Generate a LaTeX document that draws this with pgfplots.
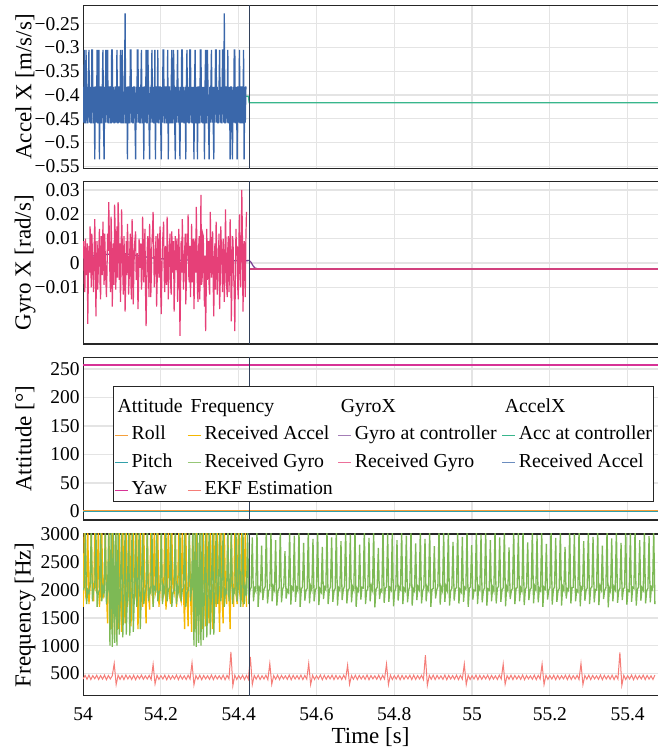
\documentclass[border=0pt]{standalone}
\usepackage{fontspec}
\setmainfont{Liberation Serif}
\usepackage{pgfplots}
\pgfplotsset{compat=1.18}
\usepackage{pgfplotstable}

\definecolor{cAccCtrl}{RGB}{56,182,140}
\definecolor{cAccRecv}{RGB}{58,103,170}
\definecolor{cGyroCtrl}{RGB}{125,70,150}
\definecolor{cGyroRecv}{RGB}{230,64,120}
\definecolor{cRoll}{RGB}{245,160,60}
\definecolor{cPitch}{RGB}{50,160,170}
\definecolor{cYaw}{RGB}{215,50,150}
\definecolor{cFAcc}{RGB}{245,183,0}
\definecolor{cFGyro}{RGB}{125,185,85}
\definecolor{cEKF}{RGB}{245,125,120}
\definecolor{cVline}{RGB}{50,65,90}
\definecolor{cGrid}{RGB}{228,228,228}

% Received Accel (panel 1), samples every 0.0015 s from 54.000
\pgfplotstableread[row sep=\\]{y\\
-0.383\\-0.458\\-0.305\\-0.458\\-0.458\\-0.305\\-0.383\\-0.458\\-0.458\\-0.383\\-0.305\\-0.458\\-0.383\\-0.458\\-0.458\\-0.305\\-0.305\\-0.458\\-0.458\\-0.383\\
-0.535\\-0.383\\-0.383\\-0.458\\-0.305\\-0.458\\-0.458\\-0.305\\-0.535\\-0.383\\-0.383\\-0.458\\-0.458\\-0.383\\-0.305\\-0.458\\-0.535\\-0.383\\-0.458\\-0.305\\
-0.383\\-0.458\\-0.305\\-0.458\\-0.458\\-0.383\\-0.383\\-0.458\\-0.458\\-0.305\\-0.305\\-0.458\\-0.383\\-0.458\\-0.458\\-0.383\\-0.383\\-0.458\\-0.305\\-0.458\\
-0.458\\-0.383\\-0.383\\-0.458\\-0.305\\-0.458\\-0.458\\-0.305\\-0.383\\-0.458\\-0.458\\-0.383\\-0.228\\-0.458\\-0.458\\-0.383\\-0.535\\-0.383\\-0.383\\-0.458\\
-0.458\\-0.305\\-0.305\\-0.458\\-0.383\\-0.458\\-0.458\\-0.383\\-0.383\\-0.458\\-0.535\\-0.383\\-0.458\\-0.305\\-0.305\\-0.458\\-0.383\\-0.458\\-0.458\\-0.383\\
-0.305\\-0.458\\-0.458\\-0.383\\-0.535\\-0.383\\-0.383\\-0.458\\-0.305\\-0.458\\-0.458\\-0.305\\-0.383\\-0.458\\-0.535\\-0.383\\-0.458\\-0.383\\-0.305\\-0.458\\
-0.383\\-0.458\\-0.458\\-0.305\\-0.535\\-0.383\\-0.383\\-0.458\\-0.305\\-0.458\\-0.458\\-0.383\\-0.383\\-0.458\\-0.535\\-0.383\\-0.458\\-0.305\\-0.305\\-0.458\\
-0.458\\-0.383\\-0.383\\-0.458\\-0.458\\-0.305\\-0.535\\-0.383\\-0.383\\-0.458\\-0.458\\-0.383\\-0.305\\-0.458\\-0.458\\-0.305\\-0.383\\-0.458\\-0.535\\-0.383\\
-0.458\\-0.383\\-0.305\\-0.458\\-0.383\\-0.458\\-0.535\\-0.383\\-0.458\\-0.305\\-0.305\\-0.458\\-0.383\\-0.458\\-0.458\\-0.383\\-0.535\\-0.383\\-0.305\\-0.458\\
-0.383\\-0.458\\-0.458\\-0.305\\-0.305\\-0.458\\-0.383\\-0.458\\-0.458\\-0.383\\-0.535\\-0.383\\-0.305\\-0.458\\-0.458\\-0.383\\-0.535\\-0.383\\-0.383\\-0.458\\
-0.458\\-0.305\\-0.305\\-0.458\\-0.383\\-0.458\\-0.458\\-0.383\\-0.535\\-0.383\\-0.305\\-0.458\\-0.458\\-0.305\\-0.383\\-0.458\\-0.535\\-0.383\\-0.458\\-0.383\\
-0.305\\-0.458\\-0.383\\-0.458\\-0.535\\-0.383\\-0.458\\-0.305\\-0.305\\-0.458\\-0.383\\-0.458\\-0.458\\-0.383\\-0.305\\-0.458\\-0.383\\-0.458\\-0.458\\-0.305\\
-0.305\\-0.458\\-0.228\\-0.458\\-0.458\\-0.383\\-0.383\\-0.458\\-0.305\\-0.458\\-0.458\\-0.383\\-0.535\\-0.383\\-0.383\\-0.458\\-0.535\\-0.383\\-0.458\\-0.305\\
-0.305\\-0.458\\-0.458\\-0.383\\-0.535\\-0.383\\-0.383\\-0.458\\-0.305\\-0.458\\-0.458\\-0.383\\-0.383\\-0.458\\-0.458\\-0.305\\-0.535\\-0.383\\-0.458\\-0.383\\
-0.383\\
}\accdata

% Received Gyro (panel 2), samples every 0.0015 s from 54.000
\pgfplotstableread[row sep=\\]{y\\
0.002\\0.009\\-0.008\\-0.012\\0.010\\0.000\\-0.005\\0.008\\-0.025\\-0.006\\0.007\\-0.004\\0.015\\0.003\\-0.010\\0.012\\0.004\\-0.006\\-0.012\\0.005\\
0.018\\0.004\\-0.022\\-0.002\\0.009\\-0.011\\-0.003\\0.006\\0.014\\-0.008\\-0.015\\0.011\\0.006\\-0.005\\0.017\\0.004\\-0.009\\0.012\\0.003\\-0.007\\
-0.014\\-0.003\\0.012\\0.005\\0.025\\0.010\\-0.006\\-0.012\\0.019\\0.007\\-0.018\\-0.004\\0.008\\-0.009\\0.024\\0.013\\-0.011\\0.003\\0.015\\-0.006\\
0.025\\0.016\\-0.007\\0.008\\-0.016\\-0.003\\0.022\\0.009\\-0.004\\-0.013\\0.011\\0.002\\-0.020\\-0.008\\0.009\\-0.005\\0.016\\0.007\\-0.013\\-0.006\\
0.005\\0.012\\-0.009\\-0.015\\0.018\\0.005\\-0.017\\-0.004\\0.007\\0.010\\0.013\\-0.007\\-0.005\\0.004\\-0.019\\-0.010\\0.010\\-0.002\\0.003\\0.008\\
-0.011\\-0.006\\0.019\\0.009\\-0.008\\0.003\\0.014\\-0.012\\-0.026\\-0.009\\0.006\\0.011\\-0.003\\-0.014\\0.016\\0.005\\-0.014\\-0.005\\0.009\\0.013\\
0.021\\0.006\\-0.010\\-0.003\\0.004\\0.011\\-0.018\\-0.007\\0.012\\0.003\\-0.006\\0.009\\0.015\\-0.012\\-0.021\\-0.004\\0.008\\0.012\\0.017\\-0.006\\
-0.012\\0.007\\0.002\\-0.009\\0.019\\0.008\\-0.015\\-0.002\\0.006\\0.012\\-0.009\\-0.013\\0.013\\0.002\\-0.004\\0.009\\-0.020\\-0.007\\0.011\\-0.003\\
0.007\\0.010\\-0.016\\-0.006\\0.014\\0.002\\-0.030\\-0.011\\0.009\\-0.004\\0.018\\0.006\\-0.011\\-0.002\\0.004\\0.012\\-0.017\\-0.008\\0.012\\0.003\\
0.020\\-0.005\\-0.008\\0.007\\-0.014\\-0.003\\0.016\\-0.008\\0.003\\0.010\\-0.019\\-0.006\\0.010\\-0.004\\0.023\\0.008\\-0.012\\-0.016\\0.006\\0.011\\
-0.015\\0.004\\0.028\\-0.009\\-0.007\\0.012\\0.011\\-0.005\\-0.018\\0.003\\-0.028\\-0.012\\0.014\\-0.007\\0.005\\0.009\\-0.010\\-0.013\\0.021\\0.004\\
-0.006\\0.008\\0.013\\-0.009\\-0.022\\0.003\\0.008\\-0.011\\0.017\\0.005\\-0.013\\-0.004\\0.004\\0.012\\-0.019\\-0.008\\0.015\\0.006\\-0.002\\-0.012\\
0.010\\0.005\\-0.016\\-0.005\\0.022\\0.007\\-0.009\\-0.014\\0.006\\0.011\\-0.012\\-0.003\\0.018\\0.004\\-0.024\\-0.010\\0.011\\0.009\\-0.005\\-0.011\\
-0.028\\-0.006\\0.014\\0.003\\0.007\\-0.010\\-0.015\\0.008\\0.020\\-0.004\\-0.010\\0.006\\0.030\\0.012\\-0.020\\-0.007\\0.009\\0.005\\-0.014\\0.010\\
0.021\\
}\gyrodata

% Frequency: Received Accel, samples every 0.003 s from 54.000
\pgfplotstableread[row sep=\\]{y\\
1700\\3100\\1900\\2000\\3100\\1750\\2050\\3100\\1950\\1800\\
3100\\2000\\1950\\3100\\1700\\2000\\3100\\1850\\2000\\3100\\
1950\\1400\\3100\\2000\\1300\\3100\\1950\\1200\\3100\\2050\\
1300\\3100\\1950\\1250\\3100\\2000\\1400\\3100\\1700\\2000\\
3100\\1350\\2000\\3100\\1800\\1950\\3100\\1300\\2050\\3100\\
1900\\1700\\3100\\2000\\1400\\3100\\1950\\1650\\3100\\2000\\
1750\\3100\\1950\\2050\\3100\\1700\\2000\\3100\\1800\\1950\\
3100\\1650\\2000\\3100\\1900\\1750\\3100\\2050\\1950\\3100\\
1700\\2000\\3100\\1900\\1800\\3100\\2000\\1300\\3100\\1950\\
1350\\3100\\2000\\1250\\3100\\1950\\1300\\3100\\2000\\1200\\
3100\\1950\\1300\\3100\\2050\\1350\\3100\\1900\\1400\\3100\\
2000\\1300\\3100\\1950\\1700\\3100\\2050\\1250\\3100\\1950\\
1400\\3100\\2000\\1750\\3100\\1950\\1300\\3100\\2000\\1700\\
3100\\1950\\1750\\3100\\2000\\1800\\3100\\1700\\2050\\3100\\1700\\
}\faccdata

% Frequency: Received Gyro, samples every 0.003 s from 54.000
\pgfplotstableread[row sep=\\]{y\\
2000\\2050\\3100\\1750\\2000\\1950\\2100\\3100\\1800\\2000\\
2050\\3100\\1700\\1950\\2000\\3100\\1800\\2050\\1950\\3100\\
1750\\2000\\3100\\1000\\3100\\980\\3100\\1050\\3100\\1000\\
3100\\1200\\2050\\3100\\1150\\1950\\3100\\1200\\2000\\3100\\
1180\\2000\\3100\\1250\\1950\\3100\\1700\\2050\\3100\\1300\\
2000\\3100\\1750\\1950\\2050\\3100\\1800\\2000\\1950\\3100\\
1700\\2050\\2000\\3100\\1800\\1950\\2000\\3100\\1750\\2050\\
1950\\3100\\1800\\2000\\2050\\3100\\1700\\1950\\2000\\3100\\
1750\\2050\\1950\\3100\\1800\\2000\\2050\\3100\\1700\\1950\\
2000\\3100\\1800\\2050\\3100\\1000\\3100\\980\\3100\\1050\\
3100\\1000\\3100\\1100\\2000\\3100\\1150\\1950\\3100\\1200\\
2050\\3100\\1200\\2000\\3100\\1750\\1950\\3100\\1800\\2050\\
3100\\1700\\2000\\1950\\3100\\1800\\2050\\3100\\1750\\2000\\
1950\\3100\\1800\\2050\\3100\\1700\\2000\\3100\\1750\\2050\\1900\\
3100\\1750\\2000\\2050\\2950\\1800\\2030\\1980\\3100\\1700\\
2040\\1990\\2800\\1820\\2010\\2060\\3100\\1760\\1990\\2030\\
3050\\1800\\2060\\2000\\2900\\1720\\1980\\2040\\3100\\1780\\
2020\\2070\\2700\\1850\\2000\\1960\\3100\\1740\\2050\\2010\\
2980\\1790\\2040\\1990\\3100\\1700\\2010\\2060\\2850\\1810\\
1990\\2030\\3100\\1760\\2070\\2000\\2920\\1800\\2000\\2040\\
3100\\1730\\2020\\1970\\2780\\1840\\2050\\2010\\3100\\1750\\
2000\\2060\\2950\\1790\\1980\\2030\\3100\\1720\\2040\\2000\\
2880\\1820\\2010\\2070\\3100\\1760\\1990\\2030\\3000\\1780\\
2060\\2000\\3100\\1700\\2020\\1980\\2820\\1830\\2050\\2040\\
3100\\1750\\1990\\2020\\2940\\1800\\2070\\2000\\3100\\1690\\
2010\\2050\\2760\\1840\\2000\\1970\\3100\\1770\\2030\\2060\\
3020\\1790\\2040\\2000\\3100\\1710\\1980\\2040\\2900\\1810\\
2050\\2010\\3100\\1750\\2030\\1990\\2980\\1780\\2000\\2070\\
3100\\1720\\2020\\1980\\2840\\1820\\2060\\2010\\3100\\1760\\
1990\\2040\\2920\\1800\\2050\\2000\\3100\\1700\\2010\\2030\\
2790\\1850\\2000\\2060\\3100\\1740\\2040\\1980\\3050\\1790\\
2070\\2000\\3100\\1720\\1990\\2030\\2870\\1810\\2020\\2050\\
3100\\1760\\2010\\1970\\2960\\1790\\2050\\2020\\3100\\1700\\
2030\\2060\\2810\\1830\\2000\\1990\\3100\\1750\\2060\\2010\\
3000\\1780\\1990\\2040\\3100\\1720\\2020\\2000\\2900\\1800\\
2050\\1980\\3100\\1760\\2030\\2070\\2950\\1790\\2000\\2040\\
3100\\1710\\2060\\2000\\2770\\1840\\1990\\2030\\3100\\1750\\
2020\\2050\\3030\\1800\\2040\\1980\\3100\\1730\\2010\\2060\\
2860\\1820\\2000\\2040\\3100\\1760\\2070\\2010\\2990\\1780\\
2030\\1990\\3100\\1700\\2050\\2020\\2830\\1830\\2000\\2040\\
3100\\1740\\2010\\2060\\2940\\1790\\1980\\2030\\3100\\1720\\
2060\\2000\\2780\\1850\\2020\\1990\\3100\\1760\\2040\\2050\\
3010\\1800\\2000\\1970\\3100\\1710\\2050\\2020\\2880\\1810\\
1990\\2040\\3100\\1750\\2030\\2060\\2960\\1780\\2010\\2000\\
3100\\1730\\2070\\2010\\2800\\1840\\2000\\2040\\3100\\1690\\
2040\\1980\\2930\\1800\\2060\\2010\\3100\\1770\\1990\\2030\\
2850\\1820\\2020\\2050\\3100\\1740\\2000\\1980\\3020\\1790\\
2050\\2030\\3100\\1720\\2010\\2060\\2900\\1810\\2040\\2000\\
3100\\1760\\1990\\2030\\2970\\1780\\2050\\2010\\3100\\1750\\
}\fgyrodata

% Frequency: EKF Estimation, samples every 0.005 s from 54.000
\pgfplotstableread[row sep=\\]{y\\
400\\465\\395\\470\\390\\460\\405\\468\\392\\462\\
398\\470\\388\\463\\402\\458\\680\\300\\470\\395\\
465\\390\\472\\400\\460\\393\\468\\388\\462\\405\\
470\\395\\458\\400\\466\\390\\665\\310\\468\\392\\
462\\400\\470\\388\\465\\396\\460\\402\\472\\390\\
466\\398\\458\\392\\470\\400\\690\\295\\462\\395\\
468\\388\\465\\402\\460\\394\\472\\390\\463\\400\\
458\\396\\470\\388\\466\\400\\890\\280\\470\\392\\
462\\400\\468\\390\\465\\396\\800\\300\\466\\398\\
470\\392\\460\\400\\468\\388\\680\\305\\462\\396\\
470\\390\\465\\402\\458\\394\\472\\388\\466\\400\\
462\\396\\470\\390\\465\\398\\680\\300\\468\\392\\
460\\400\\472\\388\\466\\396\\462\\402\\470\\390\\
465\\398\\458\\392\\470\\400\\650\\305\\462\\396\\
468\\390\\465\\400\\460\\394\\472\\388\\463\\402\\
458\\396\\470\\390\\466\\400\\670\\300\\470\\392\\
462\\400\\468\\388\\465\\396\\460\\402\\468\\390\\
470\\392\\462\\400\\466\\390\\830\\285\\465\\396\\
470\\390\\465\\402\\458\\394\\472\\388\\466\\400\\
462\\396\\470\\390\\465\\398\\670\\300\\468\\392\\
460\\400\\472\\388\\466\\396\\462\\402\\470\\390\\
465\\398\\458\\392\\470\\400\\670\\305\\462\\396\\
468\\390\\465\\400\\460\\394\\472\\388\\463\\402\\
458\\396\\470\\390\\466\\400\\670\\300\\470\\392\\
462\\400\\468\\388\\465\\396\\460\\402\\468\\390\\
470\\392\\462\\400\\466\\390\\680\\300\\465\\396\\
470\\390\\465\\402\\458\\394\\472\\388\\466\\400\\
462\\396\\470\\390\\465\\398\\880\\285\\468\\392\\
460\\400\\472\\388\\466\\396\\462\\402\\470\\390\\
465\\398\\458\\392\\470\\
}\ekfdata

\pgfplotsset{
  myaxis/.style={
    scale only axis, width=287.45pt, anchor=south west,
    xmin=54, xmax=55.478,
    xtick={54,54.2,54.4,54.6,54.8,55,55.2,55.4},
    grid=major, major grid style={draw=cGrid, line width=0.6pt},
    axis x line*=box, axis y line*=left,
    axis line style={draw=black!85, line width=0.6pt},
    major tick length=0pt,
    tick label style={font=\fontsize{9.75pt}{11pt}\selectfont},
    label style={font=\fontsize{11.5pt}{13pt}\selectfont},
    ylabel style={at={(axis description cs:-0.101,0.5)}, anchor=center},
    yticklabel style={inner sep=0pt, xshift=-1.5pt},
    xticklabel style={yshift=-2.25pt},
    /pgf/number format/assume math mode=true,
    /pgf/number format/1000 sep={},
    scaled ticks=false,
    every axis plot/.append style={line width=0.65pt},
  }
}

\begin{document}
\begin{tikzpicture}
\useasboundingbox (0,0) rectangle (329pt,374.5pt);

% Panel 1: Accel X
\begin{axis}[myaxis, at={(41.55pt,290.35pt)}, height=81.3pt,
  ymin=-0.554, ymax=-0.212,
  ytick={-0.55,-0.5,-0.45,-0.4,-0.35,-0.3,-0.25},
  yticklabels={−0.55,−0.5,−0.45,−0.4,−0.35,−0.3,−0.25},
  xticklabels={},
  ylabel={Accel X [m/s/s]}]
\addplot[cAccCtrl, forget plot] coordinates {(54,-0.4025) (54.425,-0.4025) (54.427,-0.416) (55.5,-0.416)};
\addplot[cAccRecv, forget plot] table[x expr=54+\coordindex*0.0015, y=y] {\accdata};
\addplot[cVline, forget plot, line width=0.6pt] coordinates {(54.427,-1) (54.427,1)};
\end{axis}

% Panel 2: Gyro X
\begin{axis}[myaxis, at={(41.55pt,202.5pt)}, height=81.15pt,
  ymin=-0.0333, ymax=0.0334,
  ytick={-0.01,0,0.01,0.02,0.03},
  yticklabels={−0.01,0,0.01,0.02,0.03},
  xticklabels={},
  ylabel={Gyro X [rad/s]}]
\addplot[cGyroCtrl, forget plot] coordinates {(54,0.002) (54.03,0.003) (54.06,0.0035) (54.1,0.004) (54.14,0.003) (54.18,0.002) (54.22,0.0015) (54.26,0.001) (54.3,0.002) (54.34,0.0015) (54.38,0.001) (54.41,0.0008) (54.427,0.001) (54.432,0.0002) (54.437,-0.0012) (54.442,-0.0021) (54.45,-0.0025) (55.5,-0.0025)};
\addplot[cGyroRecv, forget plot, line width=0.6pt] table[x expr=54+\coordindex*0.0015, y=y] {\gyrodata};
\addplot[cGyroRecv!80!cGyroCtrl, forget plot] coordinates {(54.427,-0.0025) (55.5,-0.0025)};
\addplot[cVline, forget plot, line width=0.6pt] coordinates {(54.427,-1) (54.427,1)};
\end{axis}

% Panel 3: Attitude
\begin{axis}[myaxis, at={(41.55pt,114.5pt)}, height=81.15pt,
  ymin=-15, ymax=270,
  ytick={0,50,100,150,200,250},
  xticklabels={},
  ylabel={Attitude [°]},
  legend columns=4, legend cell align=left,
  legend image code/.code={\draw[#1, line width=0.6pt] (0pt,0pt) -- (6.5pt,0pt);},
  legend style={at={(axis description cs:0.052,0.826)}, anchor=north west,
    draw=black!85, line width=0.5pt, fill=white,
    font=\fontsize{9.9pt}{12pt}\selectfont,
    nodes={inner sep=0.6pt, text height=7pt, text depth=2.2pt},
    row sep=3.35pt, inner sep=0.4pt,
    /tikz/every odd column/.append style={column sep=1pt},
    /tikz/every even column/.append style={column sep=1.75pt}}]
\addplot[cRoll, forget plot] coordinates {(54,0.7) (55.5,0.7)};
\addplot[cPitch, forget plot, line width=0.75pt] coordinates {(54,-0.3) (55.5,-0.3)};
\addplot[cYaw, forget plot] coordinates {(54,257) (55.5,257)};
\addplot[cVline, forget plot, line width=0.6pt] coordinates {(54.427,-100) (54.427,400)};
\addlegendimage{empty legend}\addlegendentry[text height=12pt]{\hspace*{-7pt}Attitude}
\addlegendimage{empty legend}\addlegendentry[text height=12pt]{\hspace*{-7pt}Frequency}
\addlegendimage{empty legend}\addlegendentry[text height=12pt]{\hspace*{-7pt}GyroX}
\addlegendimage{empty legend}\addlegendentry[text height=12pt]{\hspace*{-7pt}AccelX}
\addlegendimage{cRoll}\addlegendentry{Roll}
\addlegendimage{cFAcc}\addlegendentry{Received Accel}
\addlegendimage{cGyroCtrl!70!white}\addlegendentry{Gyro at controller}
\addlegendimage{cAccCtrl}\addlegendentry{Acc at controller}
\addlegendimage{cPitch}\addlegendentry{Pitch}
\addlegendimage{cFGyro!80!white}\addlegendentry{Received Gyro}
\addlegendimage{cGyroRecv!75!white}\addlegendentry{Received Gyro}
\addlegendimage{cAccRecv!75!white}\addlegendentry{Received Accel}
\addlegendimage{cYaw}\addlegendentry{Yaw}
\addlegendimage{cEKF}\addlegendentry{EKF Estimation}
\end{axis}

% Panel 4: Frequency
\begin{axis}[myaxis, at={(41.55pt,26.65pt)}, height=80.85pt,
  ymin=100, ymax=3010,
  ytick={500,1000,1500,2000,2500,3000},
  xlabel={Time [s]},
  xlabel style={at={(axis description cs:0.5,-0.255)}, anchor=center},
  ylabel={Frequency [Hz]}]
\addplot[cFAcc, forget plot] table[x expr=54+\coordindex*0.003, y=y] {\faccdata};
\addplot[cFGyro, forget plot] table[x expr=54+\coordindex*0.003, y=y] {\fgyrodata};
\addplot[cEKF, forget plot, line width=0.5pt] table[x expr=54+\coordindex*0.005, y=y] {\ekfdata};
\addplot[cVline, forget plot, line width=0.6pt] coordinates {(54.427,0) (54.427,4000)};
\end{axis}
\end{tikzpicture}
\end{document}
